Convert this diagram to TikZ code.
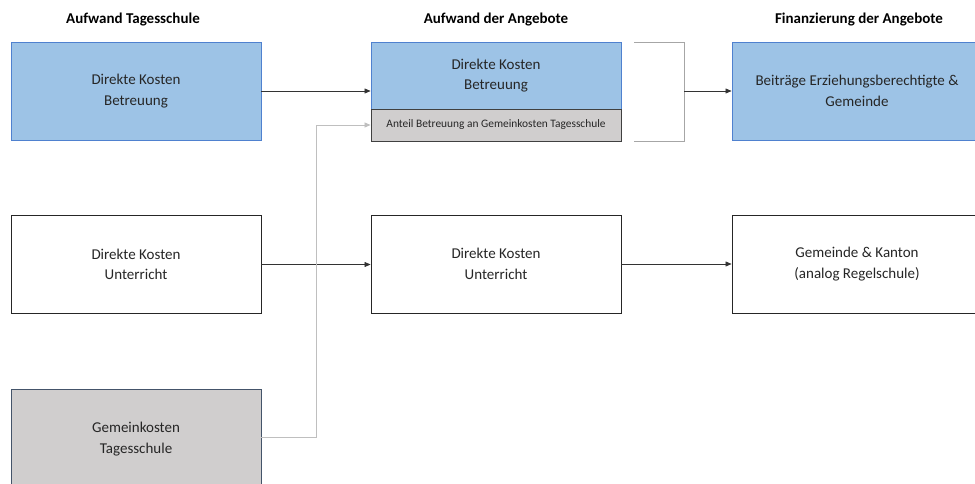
\documentclass[tikz,border=0pt]{standalone}
\usepackage{fontspec}
\setmainfont{Carlito}
\usetikzlibrary{arrows.meta}
\definecolor{bluefill}{HTML}{9DC3E6}
\definecolor{blueedge}{HTML}{4F81CF}
\definecolor{grayfill}{HTML}{D0CECE}
\definecolor{grayedge}{HTML}{44546A}
\definecolor{txt}{HTML}{262626}
\definecolor{lightconn}{HTML}{BFBFBF}
\definecolor{brack}{HTML}{A6A6A6}
\tikzset{
  box/.style={draw, line width=0.9pt, minimum width=250pt, align=center, inner sep=0pt,
    font=\fontsize{15}{20.5}\selectfont, text=txt},
  bluebox/.style={box, fill=bluefill, draw=blueedge},
  whitebox/.style={box, fill=white, draw=black!85},
  graybox/.style={box, fill=grayfill, draw=grayedge},
  header/.style={font=\fontsize{15}{18}\selectfont\bfseries, text=black},
  conn/.style={draw=black!80, line width=0.6pt, -{Triangle[length=6pt,width=5pt]}},
  lconn/.style={draw=lightconn, line width=0.8pt, -{Triangle[length=6pt,width=5pt]}},
}
\begin{document}
\begin{tikzpicture}[x=1pt,y=-1pt]
\useasboundingbox (0,0) rectangle (975,484);
\clip (0,0) rectangle (975,484);
% headers
\node[header] (h1) at (133,20) {Aufwand Tagesschule};
\node[header] (h2) at (496,20) {Aufwand der Angebote};
\node[header] (h3) at (859,20) {Finanzierung der Angebote};
% left column
\node[bluebox, minimum height=98pt] (lb) at (136,91) {Direkte Kosten\\Betreuung};
\node[whitebox, minimum height=98pt] (lu) at (136,264.5) {Direkte Kosten\\Unterricht};
\node[graybox, minimum height=100pt] (lg) at (136,439) {Gemeinkosten\\Tagesschule};
% middle column
\node[bluebox, minimum height=67pt] (mb) at (496,75.5) {Direkte Kosten\\Betreuung};
\node[graybox, draw=black!75, minimum height=32pt, font=\fontsize{11.4}{13}\selectfont] (ma) at (496,125) {Anteil Betreuung an Gemeinkosten Tagesschule};
\node[whitebox, minimum height=98pt] (mu) at (496,264) {Direkte Kosten\\Unterricht};
% right column
\node[bluebox, minimum height=98pt] (rb) at (857,91) {Beiträge Erziehungsberechtigte \&\\Gemeinde};
\node[whitebox, minimum height=98pt] (ru) at (857,264) {Gemeinde \& Kanton\\(analog Regelschule)};
% bracket
\coordinate (bt) at (634,42);
\coordinate (bb) at (634,141);
\coordinate (bm) at (684,91);
\draw[brack, line width=0.9pt] (bt) -- (684,42) -- (684,141) -- (bb);
% connectors
\draw[conn] (lb.east) -- (mb.west |- lb.east);
\draw[conn] (bm) -- (rb.west |- bm);
\draw[conn] (lu.east) -- (mu.west |- lu.east);
\draw[conn] (mu.east) -- (ru.west |- mu.east);
\draw[lconn] (lg.east |- 0,437) -- (316,437) -- (316,125) -- (ma.west);
\end{tikzpicture}
\end{document}
